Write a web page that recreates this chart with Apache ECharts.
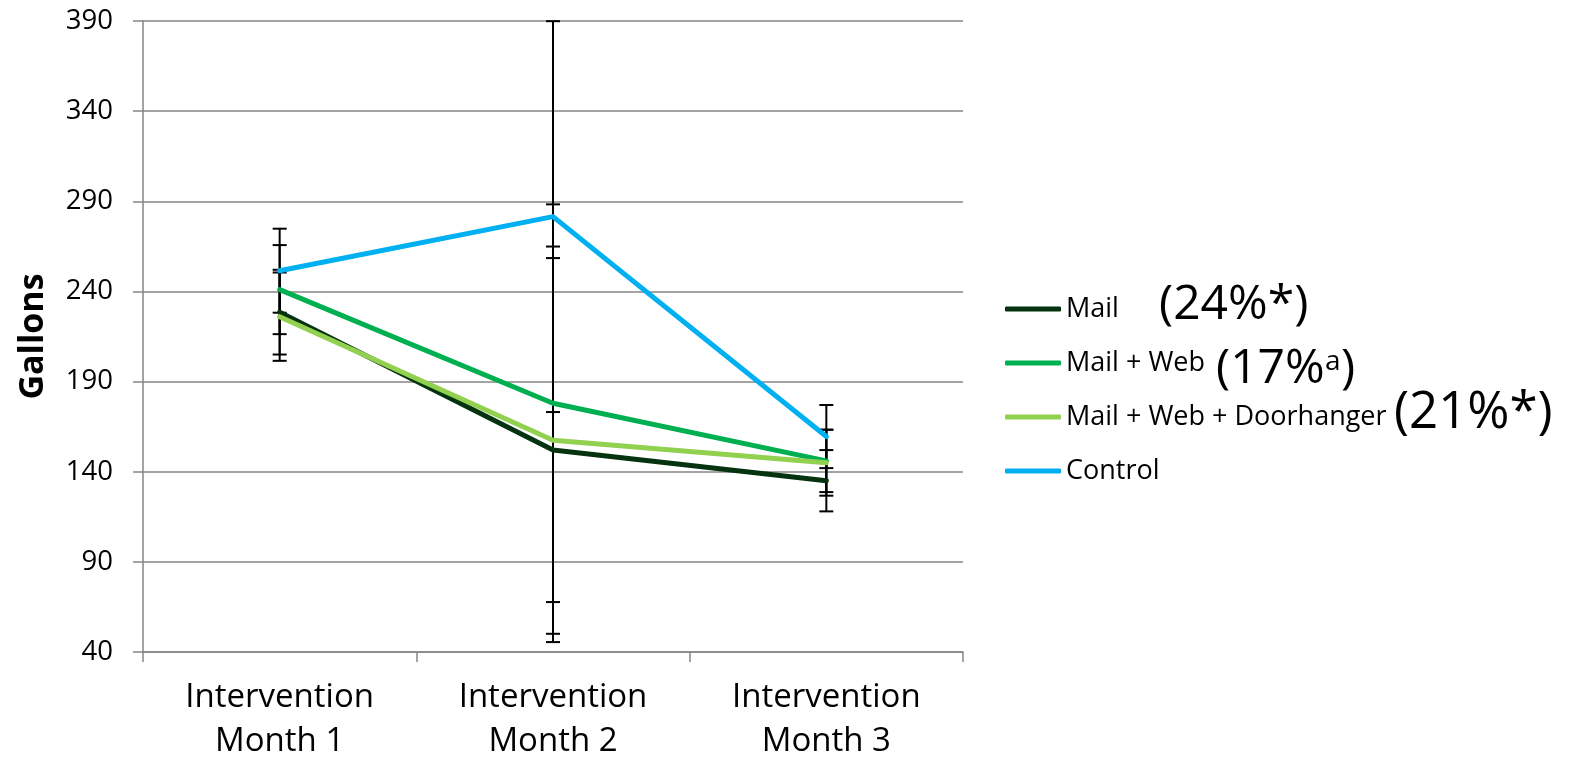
<!DOCTYPE html>
<html>
<head>
<meta charset="utf-8">
<script src="https://cdn.jsdelivr.net/npm/echarts@6/dist/echarts.min.js"></script>
<style>
html,body{margin:0;padding:0;background:#fff;}
#chart{width:1577px;height:764px;}
</style>
</head>
<body>
<div id="chart"></div>
<script>
var months = ['Intervention\nMonth 1', 'Intervention\nMonth 2', 'Intervention\nMonth 3'];
var yTicks = [40, 90, 140, 190, 240, 290, 340, 390];
var seriesNames = ['Mail', 'Mail + Web', 'Mail + Web + Doorhanger', 'Control'];
var mail = [228.5, 152, 135];
var mailWeb = [241, 178, 146];
var mailWebDoor = [226, 157.5, 145];
var control = [251.5, 281.5, 159.5];
var mailErr = [23.5, 106.5, 17];
var mailWebErr = [24.7, 110.3, 17.3];
var mailWebDoorErr = [24.5, 107.4, 18.3];
var controlErr = [23.3, 108.4, 17.5];
var notes = ['(24%*)', '(17%', 'a', ')', '(21%*)'];

var FONT = '"Open Sans", "Noto Sans", sans-serif';
var colors = ['#06330f', '#00B050', '#92D050', '#00B0F0'];
var values = [mail, mailWeb, mailWebDoor, control];
var errs = [mailErr, mailWebErr, mailWebDoorErr, controlErr];

var chart = echarts.init(document.getElementById('chart'));

function errData(v, e) {
  return v.map(function (val, i) { return [i, val - e[i], val + e[i]]; });
}
function renderErr(params, api) {
  var x = api.value(0);
  var lo = api.coord([x, api.value(1)]);
  var hi = api.coord([x, api.value(2)]);
  var hw = 7;
  var st = { stroke: '#000', lineWidth: 2 };
  return {
    type: 'group',
    children: [
      { type: 'line', shape: { x1: lo[0], y1: lo[1], x2: hi[0], y2: hi[1] }, style: st },
      { type: 'line', shape: { x1: lo[0] - hw, y1: lo[1], x2: lo[0] + hw, y2: lo[1] }, style: st },
      { type: 'line', shape: { x1: hi[0] - hw, y1: hi[1], x2: hi[0] + hw, y2: hi[1] }, style: st }
    ]
  };
}

var series = [];
values.forEach(function (v, k) {
  series.push({
    type: 'custom',
    name: seriesNames[k] + ' err',
    renderItem: renderErr,
    data: errData(v, errs[k]),
    z: 1,
    silent: true
  });
});
values.forEach(function (v, k) {
  series.push({
    type: 'line',
    name: seriesNames[k],
    data: v,
    showSymbol: false,
    symbol: 'none',
    lineStyle: { color: colors[k], width: 5, cap: 'round', join: 'round' },
    itemStyle: { color: colors[k] },
    z: 3
  });
});

var option = {
  animation: false,
  backgroundColor: '#fff',
  grid: { left: 143, right: 614, top: 21, bottom: 108, containLabel: false },
  xAxis: {
    type: 'category',
    data: months,
    boundaryGap: true,
    axisLine: { show: true, lineStyle: { color: '#868686', width: 1.5 } },
    axisTick: { show: true, length: 10, lineStyle: { color: '#868686', width: 1.5 } },
    axisLabel: { color: '#000', fontFamily: FONT, fontSize: 33, lineHeight: 44, margin: 24, interval: 0 },
    splitLine: { show: false }
  },
  yAxis: {
    type: 'value',
    min: yTicks[0],
    max: yTicks[yTicks.length - 1],
    interval: yTicks[1] - yTicks[0],
    name: 'Gallons',
    nameLocation: 'middle',
    nameRotate: 90,
    nameGap: 93,
    nameTextStyle: { color: '#000', fontFamily: FONT, fontSize: 34, fontWeight: 'bold' },
    axisLine: { show: true, lineStyle: { color: '#868686', width: 1.5 } },
    axisTick: { show: true, length: 10, lineStyle: { color: '#868686', width: 1.5 } },
    axisLabel: { color: '#000', fontFamily: FONT, fontSize: 27.5, margin: 30 },
    splitLine: { show: true, lineStyle: { color: '#868686', width: 1.5 } }
  },
  legend: {
    data: seriesNames,
    orient: 'vertical',
    left: 1000,
    top: 288,
    itemWidth: 56,
    itemHeight: 5,
    itemGap: 22,
    icon: 'roundRect',
    textStyle: { color: '#000', fontFamily: FONT, fontSize: 27, lineHeight: 32 }
  },
  graphic: [
    { type: 'text', left: 1159, top: 281, style: { text: notes[0], font: '48px ' + FONT, fill: '#000' } },
    { type: 'text', left: 1216, top: 345, style: { text: notes[1], font: '48px ' + FONT, fill: '#000' } },
    { type: 'text', left: 1325, top: 348, style: { text: notes[2], font: '28px ' + FONT, fill: '#000' } },
    { type: 'text', left: 1341, top: 345, style: { text: notes[3], font: '48px ' + FONT, fill: '#000' } },
    { type: 'text', left: 1394, top: 388, style: { text: notes[4], font: '51px ' + FONT, fill: '#000' } }
  ],
  series: series
};
chart.setOption(option);
</script>
</body>
</html>
